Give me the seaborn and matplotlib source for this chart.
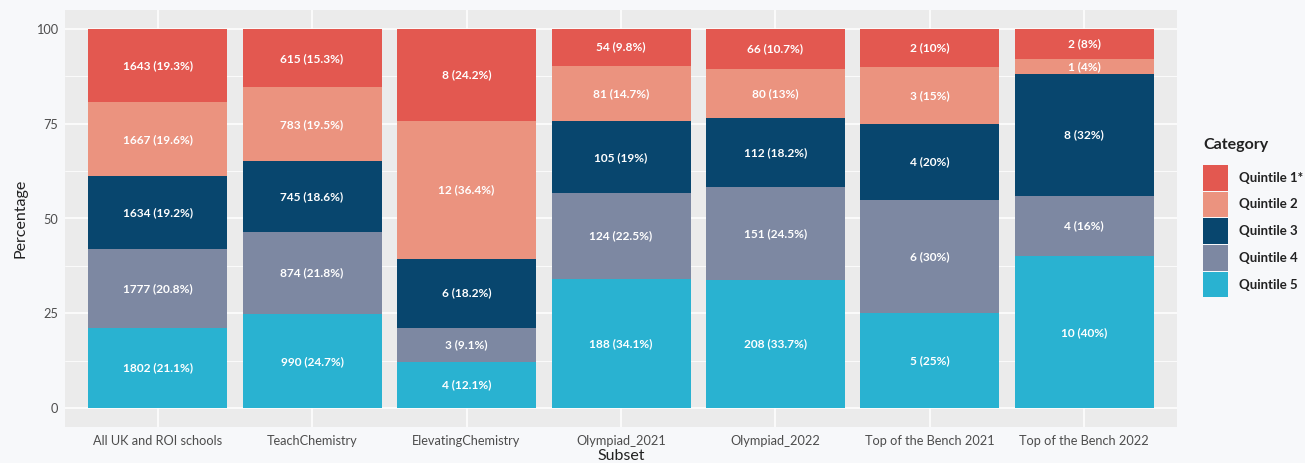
import matplotlib
matplotlib.use("Agg")
import matplotlib.pyplot as plt
import matplotlib.patches as mpatches
import numpy as np
import pandas as pd
import seaborn as sns

subsets = ["All UK and ROI schools", "TeachChemistry", "ElevatingChemistry",
           "Olympiad_2021", "Olympiad_2022", "Top of the Bench 2021",
           "Top of the Bench 2022"]
categories = ["Quintile 1*", "Quintile 2", "Quintile 3", "Quintile 4", "Quintile 5"]
colors = ["#E35850", "#EB937F", "#08466E", "#7D88A2", "#29B2D1"]

# counts and shares per subset, ordered Quintile 1* .. Quintile 5
counts = {
    "All UK and ROI schools": [1643, 1667, 1634, 1777, 1802],
    "TeachChemistry": [615, 783, 745, 874, 990],
    "ElevatingChemistry": [8, 12, 6, 3, 4],
    "Olympiad_2021": [54, 81, 105, 124, 188],
    "Olympiad_2022": [66, 80, 112, 151, 208],
    "Top of the Bench 2021": [2, 3, 4, 6, 5],
    "Top of the Bench 2022": [2, 1, 8, 4, 10],
}
percents = {
    "All UK and ROI schools": [19.3, 19.6, 19.2, 20.8, 21.1],
    "TeachChemistry": [15.3, 19.5, 18.6, 21.8, 24.7],
    "ElevatingChemistry": [24.2, 36.4, 18.2, 9.1, 12.1],
    "Olympiad_2021": [9.8, 14.7, 19, 22.5, 34.1],
    "Olympiad_2022": [10.7, 13, 18.2, 24.5, 33.7],
    "Top of the Bench 2021": [10, 15, 20, 30, 25],
    "Top of the Bench 2022": [8, 4, 32, 16, 40],
}

rows = []
for s in subsets:
    for c, n, p in zip(categories, counts[s], percents[s]):
        rows.append({"Subset": s, "Category": c, "n": n, "pct": p})
df = pd.DataFrame(rows)
# stack with Quintile 5 at the bottom
df["top"] = df.groupby("Subset")["pct"].transform(lambda v: v[::-1].cumsum()[::-1])
df["bottom"] = df["top"] - df["pct"]

FONT = ["Lato", "DejaVu Sans"]
sns.set_theme(style="darkgrid")
plt.rcParams["font.family"] = FONT

W, H = 1305, 463
fig = plt.figure(figsize=(W / 100, H / 100), dpi=100, facecolor="#F7F8FA")
ax = fig.add_axes([65 / W, 1 - 427 / H, (1177 - 65) / W, (427 - 10) / H])
ax.set_facecolor("#EBEBEB")

for cat, col in zip(categories, colors):
    sub = df[df["Category"] == cat]
    sns.barplot(data=sub, x="Subset", y="top", order=subsets, color=col,
                width=0.9, saturation=1, linewidth=0, ax=ax, errorbar=None)

fmt = lambda v: f"{v:g}"
for _, r in df.iterrows():
    xi = subsets.index(r["Subset"])
    ax.text(xi, (r["top"] + r["bottom"]) / 2, f"{r['n']} ({fmt(r['pct'])}%)",
            ha="center", va="center", color="white", fontsize=8.6,
            fontweight="bold")

ax.set_xlim(-0.6, len(subsets) - 0.4)
ax.set_ylim(-5, 105)
ax.set_yticks([0, 25, 50, 75, 100])
ax.set_yticks([12.5, 37.5, 62.5, 87.5], minor=True)
ax.grid(which="major", color="white", linewidth=1.1)
ax.grid(which="minor", axis="y", color="white", linewidth=0.55)
ax.set_axisbelow(True)
for sp in ax.spines.values():
    sp.set_visible(False)
ax.tick_params(axis="both", which="both", length=0, colors="#4D4D4D",
               labelsize=9.2)
ax.tick_params(axis="x", pad=6)
ax.tick_params(axis="y", pad=5)
ax.set_xlabel("Subset", fontsize=11.5, color="#222222", labelpad=1)
ax.set_ylabel("Percentage", fontsize=11.5, color="#222222", labelpad=6)

# legend: title placed as text, keys as a stacked column of squares
fig.text(1203 / W, 1 - 145 / H, "Category", ha="left", va="center",
         fontsize=11.5, fontweight="bold", color="#222222")
handles = [mpatches.Patch(facecolor=c, edgecolor="none", label=l)
           for c, l in zip(colors, categories)]
leg = fig.legend(handles=handles, loc="upper left",
                 bbox_to_anchor=(1203 / W, 1 - 165 / H), frameon=False,
                 handlelength=1.9, handleheight=2.6, handletextpad=0.8,
                 labelspacing=0.09, borderaxespad=0, borderpad=0,
                 prop={"weight": "bold", "size": 9.5})
for t in leg.get_texts():
    t.set_color("#222222")

fig.savefig("out.png", dpi=100, facecolor=fig.get_facecolor())
